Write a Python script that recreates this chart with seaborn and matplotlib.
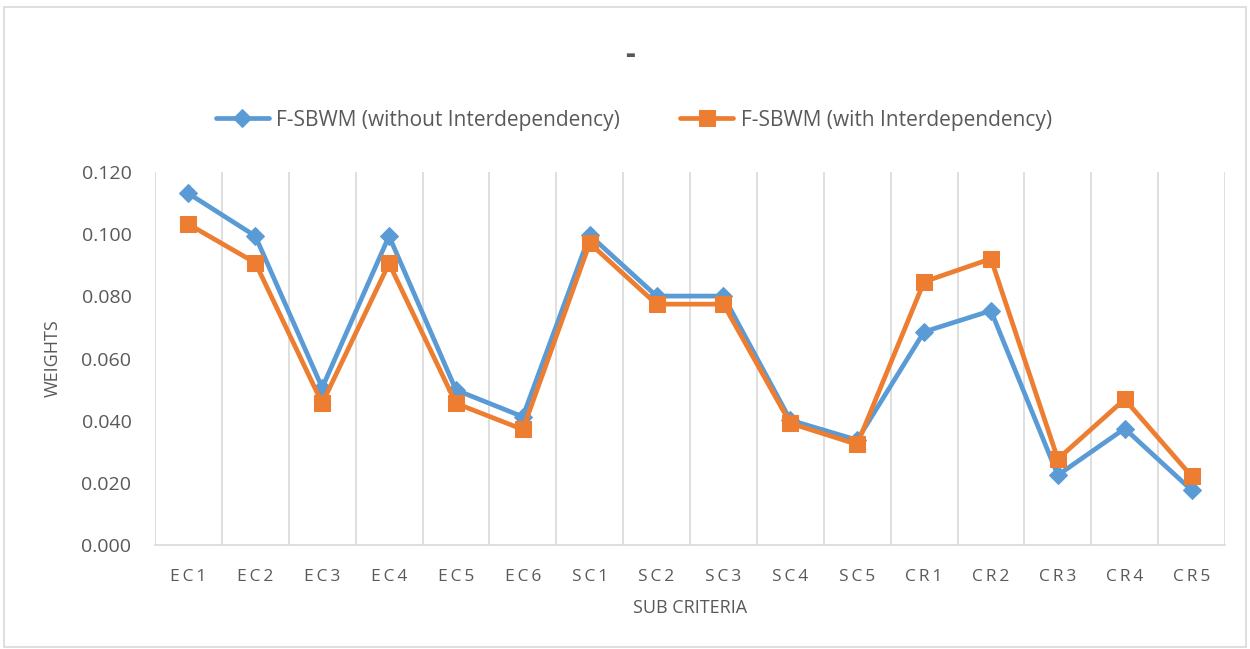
import matplotlib
matplotlib.use("Agg")
import matplotlib.pyplot as plt
import seaborn as sns
import pandas as pd
from matplotlib.patches import Rectangle
from matplotlib.ticker import FormatStrFormatter

categories = ["EC1", "EC2", "EC3", "EC4", "EC5", "EC6", "SC1", "SC2",
              "SC3", "SC4", "SC5", "CR1", "CR2", "CR3", "CR4", "CR5"]
without_inter = [0.1131, 0.0994, 0.0506, 0.0994, 0.0499, 0.0413, 0.0997, 0.0801,
                 0.0801, 0.0402, 0.0338, 0.0686, 0.0754, 0.0225, 0.0375, 0.0177]
with_inter = [0.1032, 0.0908, 0.0456, 0.0906, 0.0456, 0.0372, 0.0971, 0.0775,
              0.0775, 0.0392, 0.0324, 0.0847, 0.0921, 0.0277, 0.0469, 0.0222]
series_names = ["F-SBWM (without Interdependency)", "F-SBWM (with Interdependency)"]
colors = ["#5B9BD5", "#ED7D31"]
markers = ["D", "s"]

sns.set_theme(style="white")
plt.rcParams['font.family'] = ['Open Sans', 'DejaVu Sans']

df = pd.DataFrame({
    "cat": categories * 2,
    "pos": list(range(len(categories))) * 2,
    "value": without_inter + with_inter,
    "series": [series_names[0]] * len(categories) + [series_names[1]] * len(categories),
})

fig = plt.figure(figsize=(12.5, 6.49), dpi=100)
ax = fig.add_axes([0.124, 0.160, 0.856, 0.575])

for name, c, m, ms in zip(series_names, colors, markers, [9.5, 11]):
    sub = df[df["series"] == name]
    sns.lineplot(data=sub, x="pos", y="value", ax=ax, color=c, marker=m,
                 markersize=ms, markeredgecolor=c, linewidth=3.4, label=name,
                 sort=False)

ax.set_xlim(-0.5, len(categories) - 0.5)
ax.set_ylim(0, 0.12)
ax.set_yticks([0, 0.02, 0.04, 0.06, 0.08, 0.10, 0.12])
ax.yaxis.set_major_formatter(FormatStrFormatter("%.3f"))
ax.set_xticks(range(len(categories)))
ax.set_xticklabels(["\u2009".join(c) for c in categories])
for b in [i + 0.5 for i in range(-1, len(categories))]:
    ax.axvline(b, color="#D9D9D9", linewidth=1.2, zorder=0)

for s in ["top", "right", "left"]:
    ax.spines[s].set_visible(False)
ax.spines["bottom"].set_color("#D9D9D9")
ax.spines["bottom"].set_linewidth(1.2)
ax.tick_params(axis="y", labelsize=14, labelcolor="#595959", length=0, pad=17)
ax.tick_params(axis="x", labelsize=12.5, labelcolor="#595959", length=0, pad=17)
ax.set_xlabel("SUB CRITERIA", fontsize=13, color="#595959", labelpad=10)
ax.set_ylabel("WEIGHTS", fontsize=13, color="#595959", labelpad=14)

leg = ax.legend(loc="center", bbox_to_anchor=(0.507, 0.815), bbox_transform=fig.transFigure,
                ncol=2, frameon=False, fontsize=15, labelcolor="#595959",
                handlelength=2.55, handletextpad=0.35, columnspacing=2.9)

fig.text(0.504, 0.915, "-", ha="center", va="center", fontsize=22, fontweight="bold",
         color="#595959")
fig.patches.append(Rectangle((0.003, 0.003), 0.994, 0.986, transform=fig.transFigure,
                             fill=False, edgecolor="#D9D9D9", linewidth=1.2))

fig.savefig("out.png", dpi=100, facecolor="white")
